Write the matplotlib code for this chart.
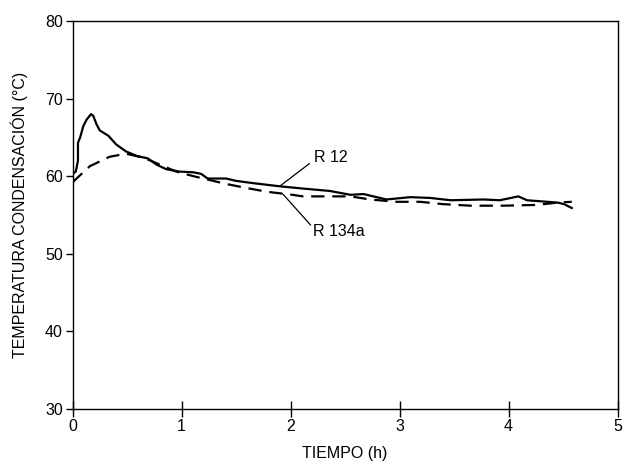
import matplotlib
matplotlib.use("Agg")
import matplotlib.pyplot as plt

plt.rcParams['font.family'] = ['Liberation Sans', 'DejaVu Sans']

# R 12 (solid)
t_r12 = [0.00, 0.03, 0.05, 0.05, 0.07, 0.10, 0.13, 0.17, 0.19, 0.22, 0.25, 0.33, 0.40,
         0.49, 0.59, 0.69, 0.77, 0.86, 0.98, 1.11, 1.18, 1.24, 1.33, 1.41, 1.50, 1.66,
         1.90, 2.12, 2.36, 2.55, 2.67, 2.88, 3.10, 3.28, 3.47, 3.77, 3.92, 4.09, 4.17,
         4.45, 4.51, 4.58]
temp_r12 = [60.3, 60.6, 62.0, 64.3, 65.0, 66.5, 67.3, 68.0, 67.8, 66.7, 65.9, 65.2, 64.1,
            63.2, 62.6, 62.3, 61.5, 60.9, 60.6, 60.5, 60.3, 59.7, 59.7, 59.7, 59.4, 59.1,
            58.7, 58.4, 58.1, 57.6, 57.7, 57.0, 57.3, 57.2, 56.9, 57.0, 56.9, 57.4, 56.9,
            56.6, 56.4, 55.9]

# R 134a (dashed)
t_r134a = [0.00, 0.06, 0.16, 0.34, 0.49, 0.65, 0.80, 0.95, 1.11, 1.26, 1.41, 1.59, 1.78,
           2.02, 2.11, 2.55, 2.73, 2.97, 3.19, 3.40, 3.65, 3.95, 4.26, 4.45, 4.58]
temp_r134a = [59.2, 60.0, 61.3, 62.5, 62.9, 62.4, 61.5, 60.6, 60.0, 59.5, 59.0, 58.5, 58.0,
              57.6, 57.4, 57.4, 57.0, 56.7, 56.7, 56.4, 56.2, 56.2, 56.3, 56.6, 56.7]

x_ticks = [0, 1, 2, 3, 4, 5]
y_ticks = [30, 40, 50, 60, 70, 80]

fs = 11.5
fig = plt.figure(figsize=(6.24, 4.68), dpi=100)
ax = fig.add_axes([0.1162, 0.1261, 0.8734, 0.829])

ax.plot(t_r12, temp_r12, color='black', lw=1.6, solid_joinstyle='round')
ax.plot(t_r134a, temp_r134a, color='black', lw=1.6, dashes=(6, 3.5))

ax.set_xlim(0, 5)
ax.set_ylim(30, 80)
ax.set_xticks(x_ticks)
ax.set_yticks(y_ticks)
ax.tick_params(axis='x', direction='inout', length=12, width=1, labelsize=fs, pad=1)
ax.tick_params(axis='y', direction='out', length=5, width=1, labelsize=fs, pad=2)
for s in ax.spines.values():
    s.set_linewidth(1.0)

ax.set_xlabel('TIEMPO (h)', fontsize=fs, labelpad=9)
ax.set_ylabel('TEMPERATURA CONDENSACIÓN (°C)', fontsize=fs, labelpad=12)

ax.annotate('R 12', xy=(1.90, 58.7), xytext=(2.22, 62.4), fontsize=fs,
            va='center', ha='left',
            arrowprops=dict(arrowstyle='-', color='black', lw=0.9, shrinkA=0, shrinkB=0,
                            relpos=(-0.15, 0.1)))
ax.annotate('R 134a', xy=(1.93, 57.7), xytext=(2.21, 52.9), fontsize=fs,
            va='center', ha='left',
            arrowprops=dict(arrowstyle='-', color='black', lw=0.9, shrinkA=0, shrinkB=0,
                            relpos=(-0.05, 0.9)))

fig.savefig('out.png', dpi=100)
